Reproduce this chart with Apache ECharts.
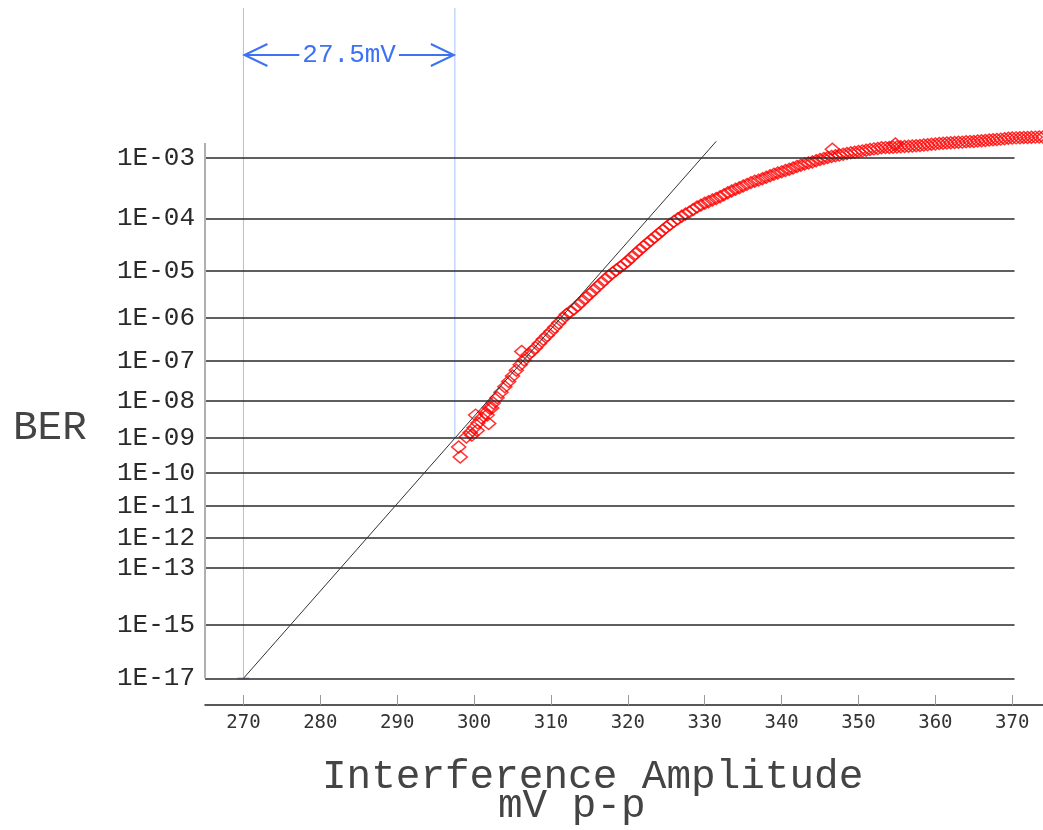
<!DOCTYPE html>
<html>
<head>
<meta charset="utf-8">
<script src="https://cdn.jsdelivr.net/npm/echarts@6/dist/echarts.min.js"></script>
<style>
html,body{margin:0;padding:0;background:#fff;}
#chart{width:1043px;height:830px;}
</style>
</head>
<body>
<div id="chart"></div>
<script>
// ---- data ----
const amplitude = [299,300,301,302,303,304,305,306,307,308,309,310,311,312,313,314,315,316,317,318,319,320,321,322,323,324,325,326,327,328,329,330,331,332,333,334,335,336,337,338,339,340,341,342,343,344,345,346,347,348,349,350,351,352,353,354,355,356,357,358,359,360,361,362,363,364,365,366,367,368,369,370,371,372,373,374];
const berMeasured = [1.06e-9,1.9e-9,3.5e-9,6.5e-9,1.2e-8,2.3e-8,4.3e-8,8.2e-8,1.4e-7,2.1e-7,3.3e-7,5.0e-7,7.8e-7,1.2e-6,1.6e-6,2.3e-6,3.3e-6,4.7e-6,6.7e-6,9.2e-6,1.2e-5,1.6e-5,2.2e-5,3.0e-5,4.0e-5,5.3e-5,7.0e-5,8.9e-5,1.1e-4,1.3e-4,1.6e-4,1.85e-4,2.1e-4,2.4e-4,2.8e-4,3.2e-4,3.6e-4,4.1e-4,4.5e-4,5.0e-4,5.6e-4,6.1e-4,6.7e-4,7.4e-4,8.1e-4,8.7e-4,9.5e-4,1.02e-3,1.08e-3,1.14e-3,1.2e-3,1.25e-3,1.31e-3,1.37e-3,1.42e-3,1.44e-3,1.46e-3,1.49e-3,1.51e-3,1.54e-3,1.58e-3,1.62e-3,1.66e-3,1.68e-3,1.71e-3,1.74e-3,1.76e-3,1.80e-3,1.84e-3,1.88e-3,1.93e-3,1.97e-3,1.99e-3,2.01e-3,2.03e-3,2.04e-3];
const amplitudeHalf = [299.5,300.5,301.5,302.5,303.5,304.5,305.5,306.5,307.5,308.5,309.5,310.5,311.5,312.5,313.5,314.5,315.5,316.5,317.5,318.5,319.5,320.5,321.5,322.5,323.5,324.5,325.5,326.5,327.5,328.5,329.5,330.5,331.5,332.5,333.5,334.5,335.5,336.5,337.5,338.5,339.5,340.5,341.5,342.5,343.5,344.5,345.5,346.5,347.5,348.5,349.5,350.5,351.5,352.5,353.5,354.5,355.5,356.5,357.5,358.5,359.5,360.5,361.5,362.5,363.5,364.5,365.5,366.5,367.5,368.5,369.5,370.5,371.5,372.5,373.5];
const berHalf = [1.42e-9,2.58e-9,4.77e-9,8.83e-9,1.66e-8,3.14e-8,5.94e-8,1.07e-7,1.71e-7,2.63e-7,4.06e-7,6.24e-7,9.67e-7,1.39e-6,1.92e-6,2.76e-6,3.94e-6,5.61e-6,7.85e-6,1.05e-5,1.39e-5,1.88e-5,2.57e-5,3.46e-5,4.6e-5,6.09e-5,7.89e-5,9.89e-5,1.2e-4,1.44e-4,1.72e-4,1.97e-4,2.24e-4,2.59e-4,2.99e-4,3.39e-4,3.84e-4,4.3e-4,4.74e-4,5.29e-4,5.84e-4,6.39e-4,7.04e-4,7.74e-4,8.39e-4,9.09e-4,9.84e-4,1.05e-3,1.11e-3,1.17e-3,1.22e-3,1.28e-3,1.34e-3,1.39e-3,1.43e-3,1.45e-3,1.47e-3,1.50e-3,1.52e-3,1.56e-3,1.60e-3,1.64e-3,1.67e-3,1.70e-3,1.72e-3,1.75e-3,1.78e-3,1.82e-3,1.86e-3,1.90e-3,1.95e-3,1.98e-3,2.00e-3,2.02e-3,2.035e-3];
const outlierAmplitude = [298.2,298.0,299.7,300.4,301.9,301.7,300.2,302.3,306.2,346.6,354.8];
const outlierBer = [2.9e-10,5.6e-10,1.2e-9,1.6e-9,2.5e-9,4.2e-9,4.2e-9,6.5e-9,1.7e-7,1.35e-3,1.61e-3];
const fitAmplitude = [270,331.5];
const fitBer = [1e-17,1.77e-3];
const berTicks = [1e-3,1e-4,1e-5,1e-6,1e-7,1e-8,1e-9,1e-10,1e-11,1e-12,1e-13,1e-15,1e-17];
const berTickLabels = ['1E-03','1E-04','1E-05','1E-06','1E-07','1E-08','1E-09','1E-10','1E-11','1E-12','1E-13','1E-15','1E-17'];
const amplitudeTicks = [270,280,290,300,310,320,330,340,350,360,370];
const marginStart = 270, marginEnd = 297.5, marginBer = 1e-9, marginLabel = '27.5mV';
const xTitle1 = 'Interference Amplitude', xTitle2 = 'mV p-p', yTitle = 'BER';

// ---- Q-scale (inverse normal tail) ----
function normInv(p){
  const a=[-3.969683028665376e+01,2.209460984245205e+02,-2.759285104469687e+02,1.383577518672690e+02,-3.066479806614716e+01,2.506628277459239e+00];
  const b=[-5.447609879822406e+01,1.615858368580409e+02,-1.556989798598866e+02,6.680131188771972e+01,-1.328068155288572e+01];
  const c=[-7.784894002430293e-03,-3.223964580411365e-01,-2.400758277161838e+00,-2.549732539343734e+00,4.374664141464968e+00,2.938163982698783e+00];
  const d=[7.784695709041462e-03,3.224671290700398e-01,2.445134137142996e+00,3.754408661907416e+00];
  const pl=0.02425;
  let q,r;
  if(p<pl){q=Math.sqrt(-2*Math.log(p));return (((((c[0]*q+c[1])*q+c[2])*q+c[3])*q+c[4])*q+c[5])/((((d[0]*q+d[1])*q+d[2])*q+d[3])*q+1);}
  if(p<=1-pl){q=p-0.5;r=q*q;return (((((a[0]*r+a[1])*r+a[2])*r+a[3])*r+a[4])*r+a[5])*q/(((((b[0]*r+b[1])*r+b[2])*r+b[3])*r+b[4])*r+1);}
  q=Math.sqrt(-2*Math.log(1-p));return -(((((c[0]*q+c[1])*q+c[2])*q+c[3])*q+c[4])*q+c[5])/((((d[0]*q+d[1])*q+d[2])*q+d[3])*q+1);
}
const qOf = ber => -normInv(ber);

const PX_PER_Q = 96.3;
const gridTop = 5, gridBottom = 125;
const qAt1e3 = qOf(1e-3);
const yMin = qAt1e3 - (158 - gridTop) / PX_PER_Q;
const yMax = qAt1e3 + (705 - 158) / PX_PER_Q;
const qAxisTop = qAt1e3 - (158 - 143) / PX_PER_Q;

const tickQ = berTicks.map(qOf);
const chart = echarts.init(document.getElementById('chart'));

const gridLineData = tickQ.map(q => [{coord:[265,q]},{coord:[370.3,q]}]);
gridLineData.push([{coord:[265,qAxisTop],lineStyle:{color:'#b0b0b0',width:2}},{coord:[265,qOf(1e-17)]}]);

const mainData = amplitude.map((x,i)=>[x,qOf(berMeasured[i])])
  .concat(amplitudeHalf.map((x,i)=>[x,qOf(berHalf[i])]));
const outData = outlierAmplitude.map((x,i)=>[x,qOf(outlierBer[i])]);
const fitData = fitAmplitude.map((x,i)=>[x,qOf(fitBer[i])]);

const mono = 'Liberation Mono';
const diamondStyle = {color:'rgba(0,0,0,0)',borderColor:'#ff0000',borderWidth:1.5};
chart.setOption({
  animation:false,
  backgroundColor:'#fff',
  grid:{left:205,right:0,top:gridTop,bottom:gridBottom,containLabel:false},
  xAxis:{
    type:'value', min:265, max:374,
    axisLine:{show:true,lineStyle:{color:'#222',width:1.5}},
    axisTick:{show:true,inside:true,length:10,lineStyle:{color:'#999',width:1},customValues:amplitudeTicks},
    axisLabel:{show:true,customValues:amplitudeTicks,fontFamily:'DejaVu Sans Mono',fontSize:19,color:'#333',margin:9},
    splitLine:{show:false}
  },
  yAxis:{
    type:'value', inverse:true, min:yMin, max:yMax,
    axisLine:{show:false}, axisTick:{show:false}, splitLine:{show:false},
    axisLabel:{show:true,customValues:tickQ,margin:10,fontFamily:mono,fontSize:26,color:'#2a2a2a',padding:[0,0,11,0],
      formatter:function(v){let bi=0,bd=1e9;tickQ.forEach((q,i)=>{const dd=Math.abs(q-v);if(dd<bd){bd=dd;bi=i;}});return berTickLabels[bi];}}
  },
  series:[
    {type:'line',data:[],silent:true,
     markLine:{silent:true,symbol:['none','none'],label:{show:false},animation:false,
       lineStyle:{color:'#2a2a2a',width:1.6,type:'solid'},data:gridLineData}},
    {type:'scatter',data:mainData,symbol:'diamond',symbolSize:[14,12],silent:true,itemStyle:diamondStyle},
    {type:'scatter',data:outData,symbol:'diamond',symbolSize:[14,12],silent:true,itemStyle:diamondStyle},
    {type:'line',data:fitData,symbol:'none',silent:true,z:5,lineStyle:{color:'#333',width:1}}
  ]
});

// annotation (margin marker) positioned through the chart scales
const px = v => chart.convertToPixel({xAxisIndex:0}, v);
const pyB = b => chart.convertToPixel({yAxisIndex:0}, qOf(b));
const xa = px(marginStart), xb = px(marginEnd);
const yBottomA = pyB(1e-17), yBottomB = pyB(marginBer);
const arrowY = 55, lineTop = 8;
const blueLight = '#a8c0f6', blue = '#3d72f2';
chart.setOption({
  graphic:[
    {type:'line',shape:{x1:xa,y1:lineTop,x2:xa,y2:yBottomA},style:{stroke:blueLight,lineWidth:1}},
    {type:'line',shape:{x1:xb,y1:lineTop,x2:xb,y2:yBottomB},style:{stroke:blueLight,lineWidth:1}},
    {type:'line',shape:{x1:xa-6,y1:yBottomA,x2:xa+6,y2:yBottomA},style:{stroke:blueLight,lineWidth:2}},
    {type:'line',shape:{x1:xa+1,y1:arrowY,x2:xb-1,y2:arrowY},style:{stroke:blue,lineWidth:2}},
    {type:'polyline',shape:{points:[[xa+24,arrowY-11],[xa+1,arrowY],[xa+24,arrowY+11]]},style:{stroke:blue,lineWidth:2,fill:null}},
    {type:'polyline',shape:{points:[[xb-24,arrowY-11],[xb-1,arrowY],[xb-24,arrowY+11]]},style:{stroke:blue,lineWidth:2,fill:null}},
    {type:'text',x:(xa+xb)/2,y:arrowY,style:{text:marginLabel,font:'26px "Liberation Mono"',fill:blue,align:'center',verticalAlign:'middle',backgroundColor:'#fff',padding:[0,3]}},
    {type:'text',x:13,y:428,style:{text:yTitle,font:'41px "Liberation Mono"',fill:'#444',align:'left',verticalAlign:'middle'}},
    {type:'text',x:322,y:777,style:{text:xTitle1,font:'41px "Liberation Mono"',fill:'#444',align:'left',verticalAlign:'middle'}},
    {type:'text',x:498,y:806,style:{text:xTitle2,font:'41px "Liberation Mono"',fill:'#444',align:'left',verticalAlign:'middle'}}
  ]
});
</script>
</body>
</html>
